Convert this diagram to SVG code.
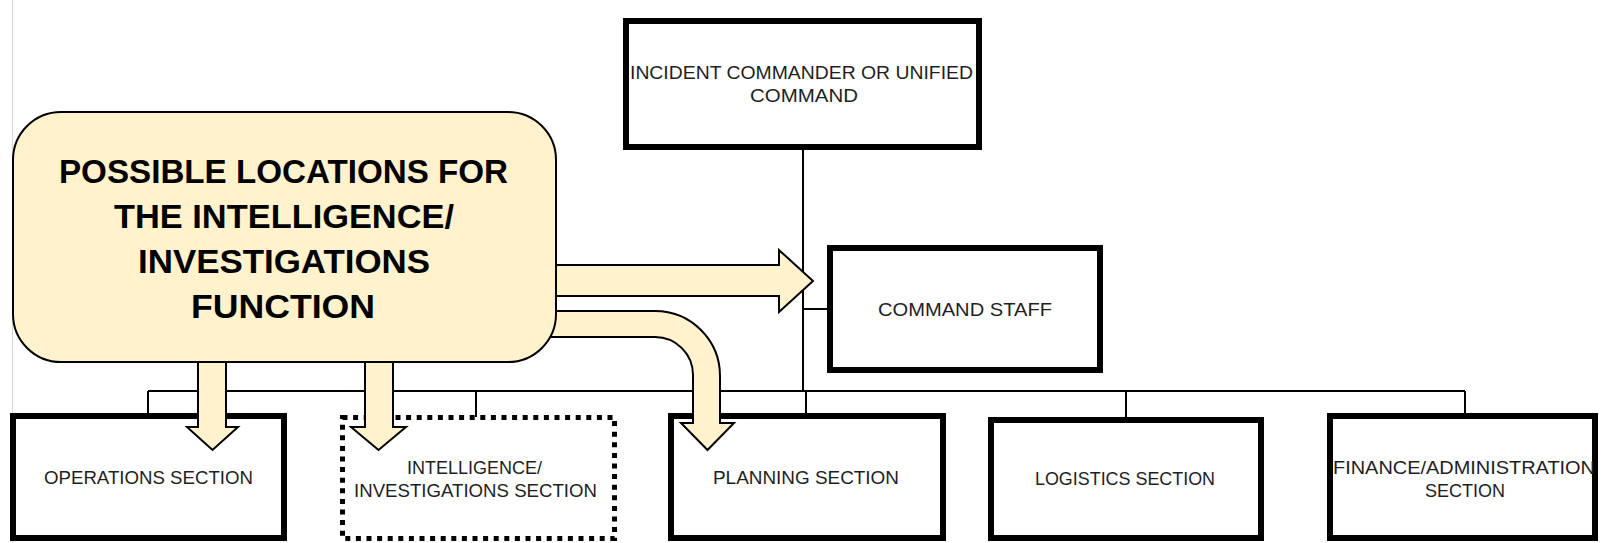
<svg xmlns="http://www.w3.org/2000/svg" width="1601" height="543" viewBox="0 0 1601 543">
<style>
.box{fill:#fff;stroke:#000;stroke-width:6}
.dot{fill:#fff;stroke:#000;stroke-width:5;stroke-dasharray:5 5.6}
.ln{fill:none;stroke:#000;stroke-width:2}
.arr{fill:#fff2cc;stroke:#000;stroke-width:2;stroke-linejoin:miter}
.lbl{font-family:"Liberation Sans",Arial,sans-serif;font-size:19px;fill:#1e1e1e;text-anchor:middle}
.ttl{font-family:"Liberation Sans",Arial,sans-serif;font-size:34px;font-weight:bold;fill:#000;text-anchor:middle}
</style>
<rect width="1601" height="543" fill="#fff"/>
<line x1="12.5" y1="0" x2="12.5" y2="543" stroke="#d4d4d4" stroke-width="1"/>
<g id="connectors">
<path class="ln" d="M803,150 V391 M803,309 H830 M148,391 H1465 M148,391 V416 M476,391 V417 M806,391 V416 M1126,391 V420 M1465,391 V416"/>
</g>
<g id="incident-commander">
<rect class="box" x="626" y="21" width="353" height="126"/>
<text class="lbl" x="801.5" y="79" textLength="343" lengthAdjust="spacingAndGlyphs">INCIDENT COMMANDER OR UNIFIED</text>
<text class="lbl" x="804" y="102" textLength="108" lengthAdjust="spacingAndGlyphs">COMMAND</text>
</g>
<g id="command-staff">
<rect class="box" x="830" y="248" width="270" height="122"/>
<text class="lbl" x="965" y="316" textLength="174" lengthAdjust="spacingAndGlyphs">COMMAND STAFF</text>
</g>
<g id="operations">
<rect class="box" x="13" y="416" width="271" height="122"/>
<text class="lbl" x="148.5" y="484" textLength="209" lengthAdjust="spacingAndGlyphs">OPERATIONS SECTION</text>
</g>
<g id="intelligence">
<rect class="dot" x="342.5" y="417.5" width="272" height="121"/>
<text class="lbl" x="474.5" y="474" textLength="135" lengthAdjust="spacingAndGlyphs">INTELLIGENCE/</text>
<text class="lbl" x="475.5" y="497" textLength="243" lengthAdjust="spacingAndGlyphs">INVESTIGATIONS SECTION</text>
</g>
<g id="planning">
<rect class="box" x="671" y="416" width="272" height="122"/>
<text class="lbl" x="806" y="484" textLength="186" lengthAdjust="spacingAndGlyphs">PLANNING SECTION</text>
</g>
<g id="logistics">
<rect class="box" x="991" y="420" width="270" height="118"/>
<text class="lbl" x="1125" y="485" textLength="180" lengthAdjust="spacingAndGlyphs">LOGISTICS SECTION</text>
</g>
<g id="finance">
<rect class="box" x="1330" y="416" width="265" height="122"/>
<text class="lbl" x="1464" y="474" textLength="262" lengthAdjust="spacingAndGlyphs">FINANCE/ADMINISTRATION</text>
<text class="lbl" x="1465" y="497" textLength="80" lengthAdjust="spacingAndGlyphs">SECTION</text>
</g>
<g id="arrows">
<path class="arr" d="M530,265 H779 V250 L813,281 L779,312 V296 H530 Z"/>
<path class="arr" d="M530,311 H655 A65,65 0 0 1 720,376 V423 H734 L707.5,450 L681,423 H693 V375 A38,38 0 0 0 655,337 H530 Z"/>
<path class="arr" d="M198,340 V427 H187 L212.5,450 L238,427 H226 V340 Z"/>
<path class="arr" d="M365,340 V427 H351 L378.5,450 L406,427 H393 V340 Z"/>
</g>
<g id="possible-locations">
<rect x="13" y="112" width="543" height="250" rx="48" ry="48" fill="#fff2cc" stroke="#000" stroke-width="2"/>
<text class="ttl" x="283.5" y="183" textLength="449" lengthAdjust="spacingAndGlyphs">POSSIBLE LOCATIONS FOR</text>
<text class="ttl" x="284" y="228" textLength="340" lengthAdjust="spacingAndGlyphs">THE INTELLIGENCE/</text>
<text class="ttl" x="284" y="273" textLength="292" lengthAdjust="spacingAndGlyphs">INVESTIGATIONS</text>
<text class="ttl" x="283" y="318" textLength="184" lengthAdjust="spacingAndGlyphs">FUNCTION</text>
</g>
</svg>
